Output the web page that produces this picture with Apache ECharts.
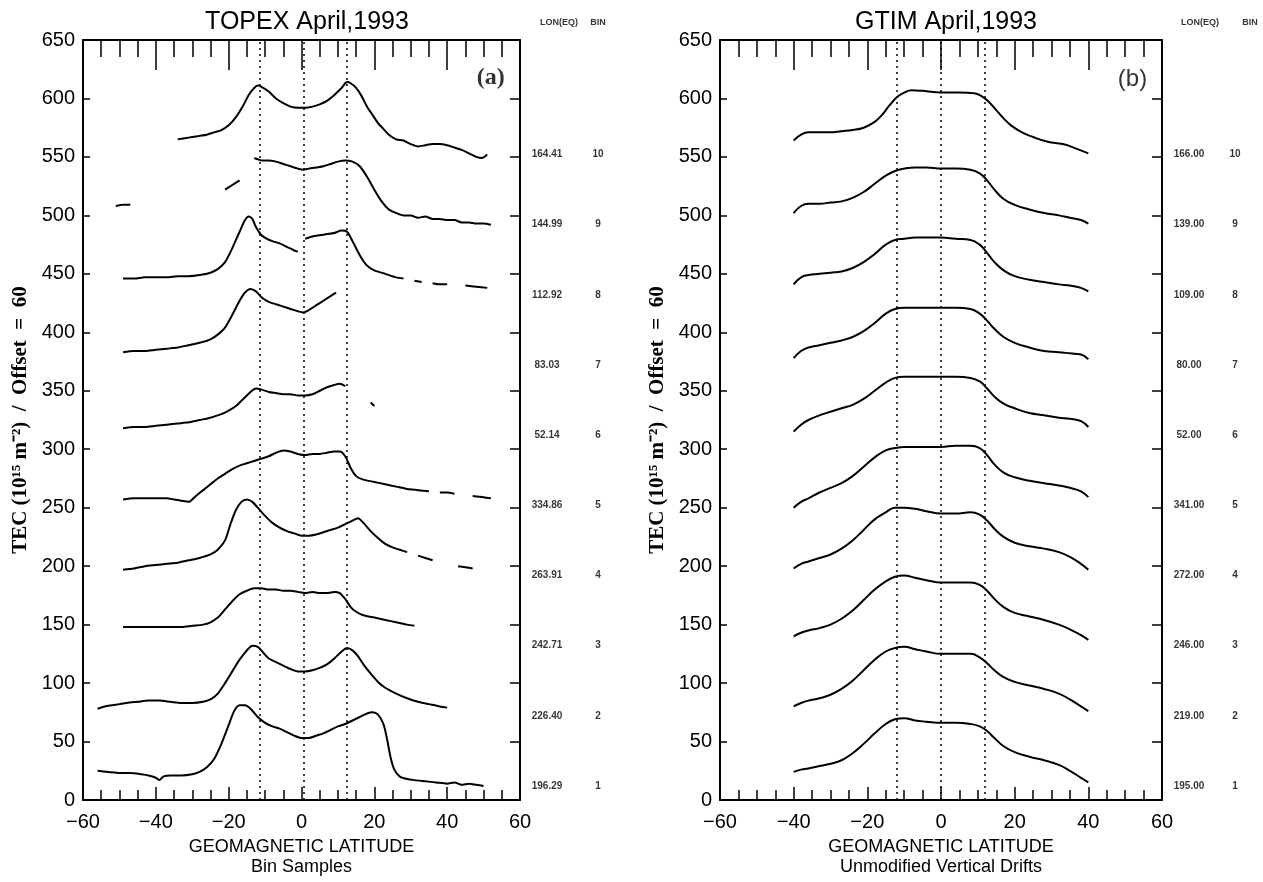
<!DOCTYPE html>
<html>
<head>
<meta charset="utf-8">
<script src="https://cdn.jsdelivr.net/npm/echarts@6/dist/echarts.min.js"></script>
<style>
  html, body { margin: 0; padding: 0; background: #ffffff; }
  #chart { width: 1263px; height: 882px; }
</style>
</head>
<body>
<div id="chart"></div>
<script>
// Axis ranges and ticks
const latMin = -60, latMax = 60, latStep = 20, latMinorSplit = 4;
const tecMin = 0, tecMax = 650, tecStep = 50;
const binOffset = 60;      // each bin is lifted by 60 TEC units
const binLabelBase = 12;   // level of the first bin's label
const topexCrestLats = [-11.5, 0.5, 12.5];
const gtimCrestLats = [-12, 0, 12];

const binNumbers = [1, 2, 3, 4, 5, 6, 7, 8, 9, 10];
const topexLon = ['196.29', '226.40', '242.71', '263.91', '334.86', '52.14', '83.03', '112.92', '144.99', '164.41'];
const gtimLon = ['195.00', '219.00', '246.00', '272.00', '341.00', '52.00', '80.00', '109.00', '139.00', '166.00'];

// TOPEX bin samples: [geomagnetic latitude, TEC + offset]; null breaks a track
const topexBin1 = [[-56,25],[-53,24],[-50,23],[-47,23],[-44,22],[-42,21],[-40,19],[-39,17],[-38,20],[-36,21],[-33,21],[-30,22],[-28,24],[-26,28],[-24,35],[-22,48],[-20,64],[-18.5,76],[-17,81],[-15.5,81],[-14,78],[-12,71],[-10,66],[-8,63],[-6,61],[-4,58],[-2,55],[0,53],[2,53],[4,55],[6,57],[8,60],[10,63],[12,65],[14,68],[16,71],[18,74],[19.5,75],[21,73],[22.5,65],[23.5,52],[24.5,36],[25.5,26],[27,20],[29,18],[31,17],[34,16],[37,15],[40,14],[42,15],[44,13],[46,14],[48,13],[50,12]];
const topexBin2 = [[-56,78],[-54,80],[-52,81],[-50,82],[-48,83],[-45,84],[-42,85],[-39,85],[-36,84],[-33,83],[-30,83],[-27,84],[-25,86],[-23,91],[-21,100],[-19,110],[-17,120],[-15,128],[-13.5,132],[-12,131],[-10.5,126],[-9,121],[-7,118],[-5,115],[-3,112],[-1,110],[1,110],[3,111],[5,113],[7,116],[9,121],[11,127],[12.5,130],[14,128],[15.5,123],[17,116],[19,108],[21,101],[23,96],[26,91],[29,87],[32,84],[35,82],[38,80],[40,79]];
const topexBin3 = [[-49,148],[-45,148],[-41,148],[-37,148],[-33,148],[-30,149],[-27,150],[-25,152],[-23,156],[-21,163],[-19,170],[-17,176],[-15,179],[-13,181],[-11,181],[-9,180],[-7,180],[-5,179],[-3,179],[-1,178],[1,177],[3,178],[5,177],[7,177],[9,178],[10.5,177],[12,172],[13.5,165],[15,161],[17,158],[20,156],[23,154],[26,152],[29,150],[31,149]];
const topexBin4 = [[-49,197],[-46,198],[-43,200],[-40,201],[-37,202],[-34,203],[-31,205],[-28,207],[-25,210],[-23,214],[-21,222],[-19.5,236],[-18,248],[-16.5,255],[-15,257],[-13.5,255],[-12,250],[-10,243],[-8,237],[-6,233],[-4,230],[-2,228],[0,226],[2,226],[4,227],[6,229],[8,231],[10,233],[12,236],[14,239],[15.5,241],[17,237],[19,230],[21,224],[23,219],[25,216],[27,214],[29,212],null,[32,209],[34,207],[36,205],null,[43,200],[45,199],[47,198]];
const topexBin5 = [[-49,257],[-46,258],[-43,258],[-40,258],[-37,258],[-35,257],[-33,256],[-31,255],[-29,260],[-27,265],[-25,270],[-23,275],[-21,279],[-19,283],[-17,286],[-15,288],[-13,290],[-11,292],[-9,294],[-7,297],[-5,299],[-3,298],[-1,296],[1,295],[3,296],[5,296],[7,297],[9,298],[10.5,298],[12,294],[13.5,284],[15,277],[17,274],[20,272],[23,270],[26,268],[29,266],[32,265],[35,264],null,[38,263],[40,263],[42,262],null,[47,260],[50,259],[52,258]];
const topexBin6 = [[-49,318],[-46,319],[-43,319],[-40,320],[-37,321],[-34,322],[-31,323],[-28,325],[-25,327],[-22,330],[-20,333],[-18,337],[-16,343],[-14,349],[-12.5,352],[-11,351],[-9,349],[-7,348],[-5,347],[-3,347],[-1,346],[1,346],[3,347],[5,350],[7,353],[9,355],[10.5,356],[12,354],null,[19,340],[20,337]];
const topexBin7 = [[-49,383],[-46,384],[-43,384],[-40,385],[-37,386],[-34,387],[-31,389],[-28,391],[-25,394],[-23,398],[-21,404],[-19,415],[-17,427],[-15.5,434],[-14,437],[-12.5,435],[-11,430],[-9,426],[-7,424],[-5,422],[-3,420],[-1,418],[0.5,417],[2,419],[4,423],[6,427],[8,431],[9.5,434]];
const topexBin8 = [[-49,446],[-46,446],[-43,447],[-40,447],[-37,447],[-34,448],[-31,448],[-28,449],[-25,451],[-23,454],[-21,460],[-19,472],[-17,486],[-15.5,496],[-14.5,499],[-13.5,497],[-12.5,490],[-11,483],[-9.5,480],[-8,478],[-6,476],[-4,473],[-2,470],[-1,469],null,[1,480],[3,482],[5,483],[7,484],[9,485],[11,487],[12.5,486],[14,478],[16,466],[18,457],[20,453],[23,450],[26,447],[28,446],null,[31,444],[33,443],null,[36,442],[38,441],[40,441],null,[45,440],[48,439],[51,438]];
const topexBin9 = [[-51,508],[-49,509],[-47,509],null,[-21,522],[-19,526],[-17,530],null,[-13,549],[-12,548],[-11,547],[-9,547],[-7,546],[-5,544],[-3,542],[-1,540],[0.5,539],[2,540],[4,541],[6,542],[8,544],[10,546],[12,547],[14,546],[16,542],[18,533],[20,522],[22,512],[24,505],[26,502],[28,500],[30,500],[32,498],[34,499],[36,497],[38,497],[40,496],[42,496],[44,494],[46,494],[48,493],[50,493],[52,492]];
const topexBin10 = [[-34,565],[-32,566],[-30,567],[-28,568],[-26,569],[-24,571],[-22,573],[-20,577],[-18,584],[-16,594],[-14.5,603],[-13,609],[-12,611],[-11,610],[-9,606],[-7,600],[-5,596],[-3,593],[-1,592],[1,592],[3,593],[5,595],[7,598],[9,603],[11,609],[12.5,614],[13.5,613],[15,609],[16.5,602],[18,593],[19.5,586],[21,579],[22.5,574],[24,569],[26,565],[28,564],[30,561],[32,559],[34,560],[36,561],[38,561],[40,560],[42,558],[44,556],[46,553],[48,550],[49.5,549],[51,552]];

// GTIM model profiles with unmodified vertical drifts: [geomagnetic latitude, TEC + offset]
const gtimBin1 = [[-40,24],[-38,26],[-36,27],[-33,29],[-30,31],[-27,34],[-24,40],[-21,48],[-18,57],[-15,65],[-12.5,69],[-10,70],[-7,68],[-4,67],[0,66],[4,66],[8,65],[10.5,63],[12.5,59],[14.5,53],[17,46],[20,41],[24,37],[28,34],[32,30],[35,25],[38,19],[40,15]];
const gtimBin2 = [[-40,80],[-38,83],[-36,85],[-33,87],[-30,90],[-27,95],[-24,102],[-21,111],[-18,120],[-15,127],[-12.5,130],[-10,131],[-7,129],[-4,127],[0,125],[4,125],[8,125],[10.5,122],[12.5,117],[14.5,111],[17,105],[20,101],[24,98],[28,95],[32,91],[35,86],[38,80],[40,76]];
const gtimBin3 = [[-40,140],[-38,143],[-36,145],[-33,147],[-30,150],[-27,155],[-24,162],[-21,171],[-18,180],[-15,187],[-12.5,191],[-10,192],[-7,190],[-4,188],[0,186],[4,186],[8,186],[10.5,184],[12.5,179],[14.5,172],[17,165],[20,160],[24,157],[28,154],[32,150],[35,146],[38,141],[40,137]];
const gtimBin4 = [[-40,198],[-38,202],[-36,204],[-33,207],[-30,210],[-27,215],[-24,222],[-21,231],[-18,240],[-15,246],[-12.5,250],[-10,250],[-7,249],[-4,247],[0,245],[4,245],[8,246],[10.5,244],[12.5,239],[14.5,232],[17,225],[20,220],[24,217],[28,215],[32,212],[35,208],[38,202],[40,197]];
const gtimBin5 = [[-40,250],[-38,255],[-36,258],[-33,263],[-30,267],[-27,271],[-24,277],[-21,285],[-18,293],[-15,299],[-12.5,301],[-10,302],[-7,302],[-4,302],[0,302],[4,303],[8,303],[10.5,301],[12.5,295],[14.5,287],[17,280],[20,276],[24,273],[28,271],[32,269],[35,267],[38,264],[40,259]];
const gtimBin6 = [[-40,315],[-38,321],[-36,325],[-33,329],[-30,332],[-27,335],[-24,338],[-21,343],[-18,350],[-15,357],[-12.5,361],[-10,362],[-7,362],[-4,362],[0,362],[4,362],[8,361],[10.5,358],[12.5,352],[14.5,345],[17,339],[20,335],[24,331],[28,329],[32,327],[35,326],[38,324],[40,319]];
const gtimBin7 = [[-40,378],[-38,384],[-36,387],[-33,389],[-30,391],[-27,393],[-24,396],[-21,401],[-18,408],[-15,416],[-12.5,420],[-10,421],[-7,421],[-4,421],[0,421],[4,421],[8,420],[10.5,416],[12.5,410],[14.5,403],[17,396],[20,391],[24,387],[28,384],[32,383],[35,382],[38,381],[40,377]];
const gtimBin8 = [[-40,441],[-38,447],[-36,449],[-33,450],[-30,451],[-27,452],[-24,455],[-21,460],[-18,467],[-15,475],[-12.5,479],[-10,480],[-7,481],[-4,481],[0,481],[4,480],[8,479],[10.5,475],[12.5,468],[14.5,460],[17,453],[20,448],[24,445],[28,443],[32,441],[35,440],[38,438],[40,435]];
const gtimBin9 = [[-40,502],[-38,508],[-36,510],[-33,510],[-30,511],[-27,512],[-24,515],[-21,520],[-18,527],[-15,534],[-12.5,538],[-10,540],[-7,541],[-4,541],[0,540],[4,540],[8,539],[10.5,536],[12.5,530],[14.5,522],[17,514],[20,509],[24,505],[28,502],[32,500],[35,498],[38,496],[40,493]];
const gtimBin10 = [[-40,564],[-38,569],[-36,571],[-33,571],[-30,571],[-27,572],[-24,573],[-21,575],[-18,580],[-16,586],[-14,594],[-12,601],[-10,605],[-8,607],[-5,606.5],[-2,605.5],[1,605],[5,605],[9,604.5],[11,602],[13,597],[15,590],[17,583],[19,577],[22,571],[25,567],[29,563],[33,561],[36,558],[40,553]];

const topexTracks = [topexBin1, topexBin2, topexBin3, topexBin4, topexBin5, topexBin6, topexBin7, topexBin8, topexBin9, topexBin10];
const gtimTracks = [gtimBin1, gtimBin2, gtimBin3, gtimBin4, gtimBin5, gtimBin6, gtimBin7, gtimBin8, gtimBin9, gtimBin10];

const SANS = 'Liberation Sans, Arial, sans-serif';
const SERIF = 'Liberation Serif, Times New Roman, serif';
const INK = '#000000';

// split a track at null entries into separate pieces
function splitTrack(track) {
  const pieces = [];
  let cur = [];
  track.forEach(p => {
    if (p === null) { if (cur.length) pieces.push(cur); cur = []; }
    else cur.push(p);
  });
  if (cur.length) pieces.push(cur);
  return pieces;
}

function trackSeries(tracks, xIdx, yIdx, smooth) {
  const out = [];
  tracks.forEach(track => {
    splitTrack(track).forEach(piece => {
      out.push({
        type: 'line', xAxisIndex: xIdx, yAxisIndex: yIdx, data: piece,
        showSymbol: false, symbol: 'none', smooth: smooth, silent: true,
        lineStyle: { color: INK, width: 2 }, z: 3
      });
    });
  });
  return out;
}

function crestLines(lats, xIdx, yIdx) {
  return {
    type: 'line', xAxisIndex: xIdx, yAxisIndex: yIdx, data: [], silent: true,
    markLine: {
      silent: true, symbol: ['none', 'none'], label: { show: false },
      lineStyle: { type: [2, 4], color: INK, width: 1.5 },
      emphasis: { disabled: true },
      data: lats.map(v => ({ xAxis: v }))
    }
  };
}

function textSeries(points, xIdx, yIdx, label) {
  return {
    type: 'scatter', xAxisIndex: xIdx, yAxisIndex: yIdx, data: points,
    symbolSize: 1, clip: false, silent: true, z: 5,
    itemStyle: { color: 'rgba(0,0,0,0)' },
    label: Object.assign({ show: true, color: INK }, label)
  };
}

function binLabelSeries(lons, xIdx, yIdx, lonOffset, binOffsetX, lonHeadOffset, binHeadOffset) {
  const pts = binNumbers.map((b, i) => [latMax, binLabelBase + binOffset * i]);
  return [
    textSeries(pts, xIdx, yIdx, {
      position: 'inside', align: 'center', verticalAlign: 'middle', offset: [lonOffset, 0],
      fontFamily: SANS, fontWeight: 'bold', fontSize: 10,
      formatter: p => lons[p.dataIndex]
    }),
    textSeries(pts, xIdx, yIdx, {
      position: 'inside', align: 'center', verticalAlign: 'middle', offset: [binOffsetX, 0],
      fontFamily: SANS, fontWeight: 'bold', fontSize: 10,
      formatter: p => String(binNumbers[p.dataIndex])
    }),
    textSeries([[latMax, 665]], xIdx, yIdx, {
      position: 'inside', align: 'center', verticalAlign: 'middle', offset: [lonHeadOffset, 0],
      fontFamily: SANS, fontWeight: 'bold', fontSize: 9,
      formatter: 'LON(EQ)'
    }),
    textSeries([[latMax, 665]], xIdx, yIdx, {
      position: 'inside', align: 'center', verticalAlign: 'middle', offset: [binHeadOffset, 0],
      fontFamily: SANS, fontWeight: 'bold', fontSize: 9,
      formatter: 'BIN'
    })
  ];
}

function latAxis(gridIndex, position, name) {
  const isBottom = position === 'bottom';
  return {
    type: 'value', gridIndex: gridIndex, position: position,
    min: latMin, max: latMax, interval: latStep,
    axisLine: { show: true, onZero: false, lineStyle: { color: INK, width: 2 } },
    axisTick: { show: true, inside: true, length: isBottom ? 13 : 30, lineStyle: { color: INK, width: 1.5 } },
    minorTick: { show: true, splitNumber: latMinorSplit, length: isBottom ? 10 : 17, lineStyle: { color: INK, width: 1.5 } },
    splitLine: { show: false }, minorSplitLine: { show: false },
    axisLabel: {
      show: isBottom, margin: 12, color: INK, fontFamily: SANS, fontSize: 20,
      formatter: v => String(v).replace('-', '\u2212')
    },
    name: isBottom ? name : '', nameLocation: 'middle', nameGap: 36,
    nameTextStyle: { color: INK, fontFamily: SANS, fontSize: 18, lineHeight: 20, align: 'center' }
  };
}

function tecAxis(gridIndex, position) {
  const isLeft = position === 'left';
  return {
    type: 'value', gridIndex: gridIndex, position: position,
    min: tecMin, max: tecMax, interval: tecStep,
    axisLine: { show: true, onZero: false, lineStyle: { color: INK, width: 2 } },
    axisTick: { show: true, inside: true, length: isLeft ? 7 : 10, lineStyle: { color: INK, width: 1.5 } },
    splitLine: { show: false },
    axisLabel: { show: isLeft, margin: 8, color: INK, fontFamily: SANS, fontSize: 20 },
    name: isLeft ? 'TEC (10\u00B9\u2075 m\u207B\u00B2)  /  Offset  =  60' : '',
    nameLocation: 'middle', nameGap: 52, nameRotate: 90,
    nameTextStyle: { color: INK, fontFamily: SERIF, fontWeight: 'bold', fontSize: 21 }
  };
}

const chart = echarts.init(document.getElementById('chart'), null, { renderer: 'canvas' });

const series = [].concat(
  trackSeries(topexTracks, 0, 0, 0.25),
  trackSeries(gtimTracks, 2, 2, 0.45),
  [crestLines(topexCrestLats, 0, 0), crestLines(gtimCrestLats, 2, 2)],
  binLabelSeries(topexLon, 0, 0, 27, 78, 39, 78),
  binLabelSeries(gtimLon, 2, 2, 27, 73, 38, 88),
  [
    textSeries([[52, 618]], 0, 0, {
      position: 'inside', align: 'center', verticalAlign: 'middle',
      fontFamily: SERIF, fontWeight: 'bold', fontSize: 24, formatter: '(a)'
    }),
    textSeries([[52, 616]], 2, 2, {
      position: 'inside', align: 'center', verticalAlign: 'middle',
      fontFamily: SANS, fontSize: 24, formatter: '(b)'
    })
  ]
);

chart.setOption({
  animation: false,
  backgroundColor: '#ffffff',
  title: [
    { text: 'TOPEX April,1993', left: 302, top: 5, textAlign: 'center',
      textStyle: { color: INK, fontFamily: SANS, fontWeight: 'normal', fontSize: 25 } },
    { text: 'GTIM April,1993', left: 941, top: 5, textAlign: 'center',
      textStyle: { color: INK, fontFamily: SANS, fontWeight: 'normal', fontSize: 25 } }
  ],
  grid: [
    { left: 83, right: 743, top: 40, bottom: 82, containLabel: false, outerBoundsMode: 'none' },
    { left: 720, right: 101, top: 40, bottom: 82, containLabel: false, outerBoundsMode: 'none' }
  ],
  xAxis: [
    latAxis(0, 'bottom', 'GEOMAGNETIC LATITUDE\nBin Samples'),
    latAxis(0, 'top', ''),
    latAxis(1, 'bottom', 'GEOMAGNETIC LATITUDE\nUnmodified Vertical Drifts'),
    latAxis(1, 'top', '')
  ],
  yAxis: [
    tecAxis(0, 'left'),
    tecAxis(0, 'right'),
    tecAxis(1, 'left'),
    tecAxis(1, 'right')
  ],
  series: series
});
</script>
</body>
</html>
